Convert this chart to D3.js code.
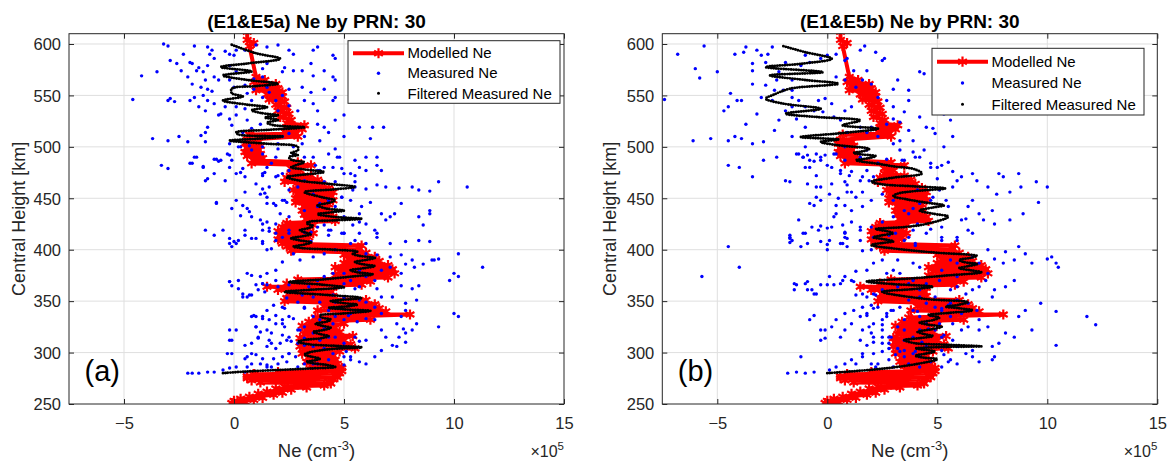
<!DOCTYPE html>
<html>
<head>
<meta charset="utf-8">
<script src="https://cdn.jsdelivr.net/npm/d3@7"></script>
<style>
  body { margin: 0; background: #fff; }
  svg { font-family: "Liberation Sans", Arial, Helvetica, sans-serif; }
</style>
</head>
<body>
<svg id="chart" width="1173" height="463"></svg>
<script>
// Ne in units of 1e5 cm^-3, height in km
var xTicks = [-5, 0, 5, 10, 15];
var yTicks = [250, 300, 350, 400, 450, 500, 550, 600];
var xDomain = [-7.5, 15];
var yDomain = [250, 610];

// modelled profile, same model in both panels: [Ne, height]
var modelled = [
  [0.1,249],[0.3,250],[-0.1,251],[0.5,252],[0.0,253],[0.9,254],[0.3,255],[1.3,256],[0.7,257],[1.8,259],
  [1.1,260],[2.2,261],[1.5,262],[2.6,264],[1.9,265],[3.3,266],[2.3,267],[4.1,268],[2.9,269],[4.4,270],
  [1.2,271],[4.3,272],[0.8,273],[4.5,274],[0.6,275],[4.7,276],[0.6,277],[4.6,278],[0.9,279],[4.8,280],
  [2.0,281],[4.9,282],[3.6,283],[4.9,285],[3.5,287],[4.7,289],[3.3,291],[4.6,293],[3.4,295],[4.5,297],
  [3.1,299],[4.8,301],[3.2,303],[5.5,304],[3.0,306],[5.3,308],[3.1,310],[5.0,312],[3.0,314],[5.4,316],
  [3.2,318],[4.8,320],[3.3,322],[4.6,324],[3.1,326],[5.0,328],[3.4,330],[6.2,332],[3.7,334],[8.0,337],
  [4.8,338],[6.9,340],[3.8,341],[6.6,343],[4.1,345],[6.4,347],[2.3,350],[6.0,351],[2.4,353],[4.5,355],
  [2.5,357],[4.4,359],[2.0,361],[4.5,363],[1.5,364],[5.8,366],[2.4,367],[6.2,369],[2.9,371],[7.0,373],
  [4.6,375],[7.3,377],[4.8,379],[7.2,381],[4.6,383],[7.0,385],[5.0,387],[6.6,389],[5.2,391],[6.4,393],
  [5.0,395],[6.0,397],[2.6,399],[5.7,401],[2.4,403],[5.8,404],[2.2,406],[3.2,408],[2.0,410],[3.4,412],
  [2.1,414],[3.6,416],[2.0,418],[3.4,420],[2.2,422],[3.6,424],[2.4,426],[4.6,428],[3.3,430],[4.5,432],
  [3.2,434],[4.3,436],[3.1,438],[4.2,440],[3.2,442],[4.3,444],[2.8,446],[4.5,448],[2.8,450],[4.4,452],
  [2.9,454],[4.5,456],[2.7,458],[4.3,460],[2.9,462],[4.0,464],[2.3,466],[3.8,468],[2.4,470],[3.5,472],
  [2.6,474],[3.0,477],[2.6,479],[3.5,482],[0.8,484],[2.9,485],[0.9,487],[1.3,489],[0.6,491],[1.2,493],
  [0.5,495],[1.1,497],[0.6,499],[1.2,501],[0.5,503],[1.1,505],[0.6,507],[2.9,510],[0.7,512],[2.8,513],
  [2.3,515],[3.1,517],[2.4,519],[3.2,521],[2.4,523],[2.6,526],[2.1,529],[2.5,532],[2.0,535],[2.4,538],
  [1.9,541],[2.3,544],[1.6,546],[2.2,549],[1.5,551],[2.2,553],[1.0,555],[2.0,557],[1.1,559],[1.9,561],
  [0.9,563],[1.4,565],[1.0,568],[0.7,598],[0.9,601],[0.6,604],[0.6,612]
];

// measured Ne, E1&E5a
var measuredA = [
  [-3.2,600],[-3.0,598],[-1.8,598],[-1.2,597],[-1.0,594],[-0.4,593],[-0.2,590],[0.0,589],[0.1,594],[0.5,594],
  [1.0,599],[1.5,597],[2.0,599],[2.5,594],[2.7,590],[3.8,597],[3.6,594],[4.5,589],[4.6,586],[-2.3,590],
  [-2.9,584],[-2.6,581],[-2.0,582],[-1.9,581],[-1.6,577],[-2.4,574],[-1.7,574],[-1.1,590],[-0.9,586],[-1.2,579],
  [-1.4,573],[-0.9,568],[-0.7,565],[-1.3,565],[-2.1,568],[-1.9,561],[-1.5,558],[-1.2,556],[-1.0,554],[-1.4,550],
  [-1.8,548],[-1.2,545],[-0.9,542],[-1.6,539],[-1.3,535],[-2.0,545],[-2.9,547],[-3.0,545],[-2.7,544],[-4.2,569],
  [-3.5,573],[-4.6,546],[-0.2,579],[0.1,573],[-0.2,565],[0.0,558],[0.5,560],[0.9,566],[1.3,568],[1.3,576],
  [1.5,581],[2.3,577],[2.2,573],[2.7,574],[3.1,574],[3.5,581],[3.6,569],[4.1,574],[4.5,568],[4.6,565],
  [4.1,556],[4.6,548],[4.5,545],[3.5,553],[3.1,558],[2.5,556],[2.2,550],[1.5,558],[1.3,548],[0.8,545],
  [0.5,537],[0.1,539],[-0.4,539],[-0.7,531],[-0.2,527],[0.1,531],[0.6,526],[1.2,522],[0.8,518],[0.4,514],
  [-0.1,521],[-0.6,532],[-1.2,519],[-1.3,514],[-1.5,511],[-2.1,505],[-2.5,510],[-3.0,506],[-3.7,508],[-1.3,505],
  [-0.2,503],[0.2,500],[0.7,501],[1.3,500],[2.0,503],[2.2,510],[2.5,513],[3.1,503],[3.9,506],[4.3,514],
  [4.1,519],[3.8,522],[4.6,526],[5.0,531],[5.7,519],[6.3,519],[6.8,519],[6.2,508],[5.0,510],[4.6,498],
  [4.3,493],[3.6,490],[3.2,490],[2.7,493],[1.9,490],[1.3,493],[0.8,497],[0.3,500],[-0.2,492],[-0.8,488],
  [-1.4,480],[-2.0,484],[-1.8,490],[-3.3,482],[-3.0,479],[-1.3,467],[-0.9,474],[-0.2,480],[0.1,474],[0.5,471],
  [1.3,474],[1.5,480],[2.2,474],[2.5,477],[3.2,467],[3.9,477],[4.5,480],[4.8,490],[5.5,487],[6.0,490],
  [6.5,490],[6.5,482],[6.7,477],[6.0,477],[5.5,472],[5.0,474],[4.6,466],[4.1,466],[5.5,461],[6.0,459],
  [6.5,463],[6.9,461],[7.5,460],[8.1,461],[8.4,458],[8.9,457],[9.3,466],[10.6,461],[7.6,445],[7.3,435],
  [7.1,432],[6.7,435],[6.2,446],[5.8,442],[5.7,435],[5.3,448],[4.9,451],[4.3,448],[3.6,454],[2.9,461],
  [2.5,458],[2.2,448],[1.5,451],[1.2,454],[0.5,456],[0.1,448],[-0.1,440],[0.3,433],[0.8,432],[1.2,429],
  [1.5,445],[1.9,443],[2.1,435],[2.5,432],[3.2,438],[3.9,445],[4.6,442],[5.0,432],[6.0,425],[6.4,419],
  [6.9,429],[8.4,432],[8.9,438],[8.9,435],[8.6,424],[-0.8,445],[-0.5,419],[0.5,419],[1.3,419],[1.9,416],
  [2.5,419],[3.8,422],[4.3,419],[5.0,416],[5.7,416],[6.5,416],[-0.6,487],[-0.1,487],[1.7,484],[2.0,498],
  [2.7,500],[3.2,510],[3.8,535],[2.9,535],[3.2,545],[3.6,542],[2.5,540],[2.0,535],[1.9,545],[1.6,553],
  [0.9,556],[0.6,552],
  [-1.9,484],[-1.7,490],[-1.4,481],[-0.9,488],[-0.7,486],[-0.3,493],[-1.2,469],[-0.4,467],[0.3,475],[0.4,479],
  [-0.8,446],[1.3,472],[1.4,475],[1.0,464],[1.3,459],[1.4,455],[1.6,461],[1.9,471],[2.0,472],[2.3,448],
  [2.4,446],[1.8,445],[0.4,443],[0.6,440],[0.7,437],[1.3,425],[1.5,427],[1.9,425],[1.6,421],[1.6,418],
  [1.0,411],[-0.2,411],[-0.1,403],[0.1,406],[1.3,408],[1.5,400],[1.7,401],[-1.3,419],[-0.9,414],[3.7,482],
  [3.8,477],[4.1,480],[4.7,490],[4.9,479],[5.3,474],[5.7,480],[5.5,466],[5.4,458],[4.9,451],[4.3,446],
  [3.8,442],[4.1,424],[4.4,419],[4.9,416],[5.4,424],[5.7,427],[5.3,406],[3.5,417],[3.5,408],
  [-0.2,369],[0.2,370],[1.0,366],[1.3,367],[0.7,356],[0.4,354],[1.4,359],[2.3,343],[0.9,336],[1.0,335],
  [1.0,325],[1.3,333],[1.6,332],[1.9,336],[2.2,328],[2.3,325],[2.7,333],[3.2,343],[1.1,315],[1.6,312],
  [1.7,309],[2.2,317],[2.6,311],[3.0,322],[3.2,314],[0.6,296],[0.5,294],[1.0,298],[1.5,288],[1.7,286],
  [2.0,289],[2.4,291],[2.5,299],[2.8,296],[-0.3,299],[-0.2,312],[5.1,301],[5.3,296],[5.7,311],[5.6,330],
  [5.2,336],[4.5,356],[5.5,362],
  [-0.2,406],[0.0,408],[0.2,409],[0.5,414],[0.8,411],[1.3,406],[1.9,409],[2.2,412],[2.5,416],[3.2,417],
  [4.3,414],[5.0,416],[5.5,409],[6.0,406],[6.5,412],[7.1,406],[7.8,408],[8.4,409],[8.9,408],[10.2,396],
  [9.1,390],[9.3,391],[8.1,390],[7.6,395],[7.1,393],[6.5,395],[6.0,396],[4.6,400],[4.1,396],[3.6,393],
  [3.0,390],[2.7,396],[2.2,388],[1.9,380],[1.5,377],[1.2,374],[0.8,375],[0.6,377],[-0.2,369],[-0.1,365],
  [0.2,362],[0.4,357],[0.6,354],[0.8,356],[1.1,361],[1.3,367],[1.5,366],[1.9,370],[2.0,364],[2.5,366],
  [2.5,359],[3.1,356],[3.4,364],[3.8,370],[4.1,374],[4.5,377],[5.0,377],[5.3,370],[5.7,380],[6.0,374],
  [6.4,370],[6.7,380],[7.1,383],[7.6,377],[7.8,386],[8.2,383],[8.6,386],[9.0,390],[10.0,377],[11.3,383],
  [10.2,374],[9.8,370],[8.4,365],[8.1,362],[7.6,365],[7.2,354],[7.8,348],[8.3,351],[7.8,341],[7.6,335],
  [7.4,328],[7.7,323],[7.5,315],[7.8,310],[7.4,306],[7.2,307],[6.7,302],[6.4,296],[6.0,289],[5.7,291],
  [5.3,293],[5.0,296],[4.5,299],[4.1,304],[3.6,306],[3.2,307],[2.9,309],[2.5,299],[2.2,296],[1.8,294],
  [1.3,294],[1.2,289],[0.8,289],[0.6,286],[0.1,286],[-0.2,322],[-0.1,312],[0.5,307],[0.8,309],[1.1,314],
  [1.2,320],[1.0,325],[1.5,322],[1.7,319],[1.9,328],[2.2,332],[2.5,335],[2.9,322],[2.5,315],[2.4,312],
  [2.1,309],[1.9,304],[1.5,306],[1.3,335],[0.8,335],[1.5,341],[1.8,346],[2.2,344],[2.4,353],[2.9,349],
  [3.2,344],[3.6,335],[3.9,332],[4.1,323],[4.5,328],[4.6,335],[5.0,332],[5.3,338],[5.7,340],[6.0,333],
  [6.4,332],[6.7,322],[6.9,315],[6.7,338],[6.4,344],[6.0,349],[5.7,351],[5.3,346],[5.0,353],[4.6,349],
  [4.3,341],[3.9,349],[3.6,354],[5.0,367],[5.7,364],[6.5,362],[6.7,354],[10.0,338],[10.2,335],[9.3,325],
  [8.3,328],[8.1,322],[7.8,319],[6.0,312],[5.5,315],[5.0,309],[4.6,315],[4.3,315],[3.9,312],[3.6,319],
  [3.2,325],[4.3,293],[5.0,288],[3.8,289],[3.2,289],[-0.9,281],[-1.2,281],[-1.6,280],[-1.9,280],[-2.1,280],
  [-0.5,283],[-0.2,285],[0.5,281],[-0.1,299],[0.1,322],[0.8,299],[1.5,286],[2.9,286],[3.6,289]
];

// measured Ne, E1&E5b
var measuredB = [
  [-7.4,546],[-6.8,590],[-6.0,576],[-5.8,567],[-5.6,598],[-5.0,573],[-4.7,535],[-4.5,539],[-4.2,590],[-4.1,545],
  [-3.8,592],[-3.7,597],[-3.4,581],[-3.4,574],[-3.2,594],[-3.0,589],[-2.8,582],[-2.7,590],[-2.5,597],[-2.3,565],
  [-2.2,573],[-1.9,582],[-1.6,565],[-1.6,555],[-1.2,579],[-1.0,589],[-0.8,582],[-0.5,573],[-0.3,586],[0.0,589],
  [0.4,590],[0.8,584],[0.9,586],[1.5,594],[1.7,598],[1.8,574],[2.2,592],[2.5,584],[2.6,586],[3.0,556],
  [3.2,565],[3.7,555],[4.2,573],[4.4,571],[-6.1,506],[-5.3,508],[-4.5,506],[-4.2,510],[-3.9,508],[-3.4,503],
  [-2.9,505],[-2.4,516],[-2.2,526],[-1.9,535],[-1.6,539],[-1.4,527],[-1.0,519],[-0.4,545],[-0.1,547],[0.2,542],
  [0.3,529],[0.6,526],[0.8,535],[0.9,514],[1.5,519],[1.8,514],[2.0,519],[2.3,510],[2.7,522],[3.0,527],
  [3.3,524],[3.7,516],[3.9,506],[4.4,497],[4.9,513],[4.8,518],[5.3,500],[5.7,510],[-4.5,482],[-4.0,480],
  [-3.4,471],[-2.9,487],[-2.3,490],[-1.9,467],[-1.7,466],[-1.4,493],[-1.1,490],[-1.0,480],[-0.8,487],[-0.5,493],
  [-0.3,487],[-0.1,492],[0.2,480],[0.6,474],[0.8,466],[1.1,456],[1.5,467],[1.8,477],[2.1,471],[2.3,484],
  [2.7,488],[3.0,503],[3.3,497],[3.5,487],[3.9,495],[4.2,490],[4.7,484],[5.0,480],[5.5,485],[5.7,476],
  [5.9,467],[5.7,461],[5.1,458],[4.8,451],[4.2,445],[3.9,440],[3.5,438],[3.0,448],[2.5,454],[2.0,448],
  [1.6,442],[1.1,438],[0.8,443],[0.4,435],[0.1,454],[-0.3,461],[-0.5,451],[-0.8,445],[-1.3,429],[-1.7,414],
  [-1.0,416],[-0.4,419],[0.2,422],[0.8,416],[1.5,419],[2.0,422],[2.5,427],[3.0,432],[3.9,419],[4.5,416],
  [5.2,409],[5.9,412],[6.4,419],[6.6,448],[6.4,442],[6.3,430],[6.1,429],[6.9,435],[7.5,438],[7.8,474],
  [8.0,471],[8.3,456],[8.7,474],[8.8,461],[9.5,466],[9.6,446],[10.0,461],[7.7,454],[7.3,461],[6.8,467],
  [6.6,474],[6.1,471],[7.1,429],[7.6,425],[8.3,429],[8.9,435],[5.3,532],[5.6,526],[3.3,506],[-1.0,500],
  [-1.6,510],[-2.5,545],[-3.0,548],[-3.2,532],[-3.7,522],[-3.9,545],[-4.4,552],[-3.4,561],[-2.8,560],[-2.4,555],
  [-2.0,555],[-1.6,548],[-1.3,545],[-1.0,539],[-0.6,535],[-0.2,534],[1.1,539],[1.3,558],[0.8,565],[0.4,568],
  [1.2,574],[1.6,565],[2.0,561],[2.3,548],[2.7,545],[3.0,539],[3.5,534],[3.7,545],[4.2,529],[4.5,519],
  [1.8,497],[1.5,490],[0.8,487],[0.4,493],[0.8,500],
  [-1.3,493],[-1.1,490],[-0.9,492],[-0.8,480],[-0.6,486],[-0.3,490],[0.0,482],[0.3,493],[0.6,477],[1.0,472],
  [-0.5,472],[-0.9,464],[-0.5,461],[0.2,464],[1.1,476],[1.6,471],[1.9,467],[0.9,463],[0.9,456],[1.3,451],
  [1.6,456],[0.5,450],[0.4,443],[-0.3,448],[-0.6,443],[0.3,432],[0.7,424],[1.1,427],[1.5,422],[0.8,417],
  [0.0,421],[-0.3,423],[-0.7,422],[-1.2,403],[-1.7,411],[-1.7,407],[0.0,405],[0.7,406],[0.9,411],[1.6,399],
  [3.4,487],[4.0,490],[4.7,480],[5.2,482],[5.0,469],[4.1,458],[4.7,448],[5.4,448],[5.5,442],[3.7,435],
  [4.1,425],[4.7,420],[5.2,422],[3.1,416],[3.7,412],[4.0,406],
  [-1.5,367],[-0.9,369],[-0.9,361],[-0.6,357],[0.0,366],[0.3,366],[0.7,370],[1.2,369],[1.3,356],[1.6,357],
  [2.2,356],[-0.6,336],[-0.1,322],[-0.3,312],[1.8,336],[1.9,325],[2.1,343],[2.5,332],[2.5,327],[2.7,335],
  [2.9,341],[2.9,315],[2.1,315],[2.5,309],[2.8,304],[1.6,299],[1.3,289],[2.0,289],[2.2,286],[-1.2,296],
  [3.1,298],[3.3,301],[4.0,301],[4.3,310],[4.6,323],[4.7,336],[4.1,340],[5.2,343],[5.5,346],[5.3,317],
  [5.3,298],[5.5,291],
  [-5.7,374],[-4.5,403],[-4.0,383],[-1.7,412],[-1.6,409],[-1.1,416],[-0.9,406],[-0.3,408],[0.1,409],[0.0,400],
  [0.6,406],[0.8,412],[0.9,403],[1.5,409],[2.0,400],[2.1,412],[2.8,414],[3.5,409],[4.0,404],[5.2,412],
  [5.9,409],[6.6,416],[7.3,400],[7.6,391],[8.1,398],[8.7,403],[9.0,396],[9.3,387],[10.0,391],[10.2,393],
  [10.5,383],[10.4,387],[8.5,390],[8.0,387],[7.3,377],[6.9,387],[6.6,393],[5.9,387],[5.6,390],[5.2,380],
  [4.2,383],[3.9,387],[3.2,390],[2.5,390],[2.1,387],[1.8,380],[1.3,379],[1.1,370],[0.8,374],[0.6,367],
  [0.1,374],[-0.3,366],[-1.0,367],[-0.7,361],[-0.5,357],[-1.4,366],[-1.5,361],[-0.8,332],[-0.3,322],[-0.1,314],
  [0.6,315],[0.8,322],[1.1,328],[1.5,335],[1.8,338],[2.1,328],[2.5,322],[2.8,315],[3.2,325],[3.5,332],
  [3.9,341],[4.2,335],[4.5,328],[4.9,322],[5.2,315],[5.9,306],[6.3,299],[6.6,302],[6.9,322],[7.3,325],
  [7.5,306],[7.8,309],[8.1,319],[8.5,315],[8.7,335],[9.0,341],[9.7,348],[10.4,340],[11.8,335],[12.2,327],
  [10.4,307],[9.3,322],[7.6,296],[7.5,293],[6.9,291],[6.6,296],[5.9,289],[5.6,293],[5.2,286],[4.7,291],
  [4.2,296],[3.9,299],[3.5,302],[3.2,304],[2.5,301],[2.1,299],[1.6,296],[1.1,293],[0.8,289],[0.4,286],
  [0.1,283],[-0.6,281],[-1.0,280],[-1.4,281],[-1.8,280],[1.8,354],[2.1,357],[2.5,361],[3.2,364],[3.7,367],
  [4.2,361],[4.9,354],[5.6,361],[5.9,364],[6.3,357],[6.4,348],[6.8,341],[6.9,332],[7.5,354],[7.6,361],
  [8.1,364],[8.5,370],[1.5,312],[1.8,307],[2.1,310],[2.5,315],[2.8,309],[3.5,312],[3.9,315],[4.5,306],
  [3.5,296],[2.8,293],[2.3,289],[3.0,286],[3.7,289],[4.2,286],[4.9,293],[5.2,302],[5.7,312],[6.1,322],
  [6.4,325],[5.6,335],[5.2,341],[4.9,344],[4.5,348],[4.2,354],[3.7,351],[3.3,344],[3.0,341],[2.7,338],
  [2.3,344],[2.0,346],[1.6,344],[1.2,341],[0.8,338],[0.4,332],[0.2,325],[1.6,322],[2.0,319],[3.5,322],
  [4.2,322],[5.1,328],[5.7,328],[6.1,338],[5.6,348],[5.9,351],[6.6,361],[6.9,364],[7.2,370],[5.9,374],
  [5.1,370],[4.5,367],[3.9,370],[3.3,377],[3.0,380],[2.7,377]
];

// filtered measured Ne, traced along the curve from 280 km upwards
var filteredA = [
  [-0.5,280],[0.5,281.5],[2.0,283],[3.5,284.5],[4.6,286],[4.2,288],[3.6,289.5],[3.3,291],[3.7,292.5],[3.9,294],
  [3.5,296],[3.2,298],[3.4,300],[3.9,302],[4.5,303.5],[5.8,305],[4.6,306.5],[3.4,308],[2.9,310.5],[3.3,312.5],
  [4.0,314],[4.3,316],[3.9,318],[3.6,320],[4.1,322],[4.4,324],[4.0,326],[3.7,328],[4.2,330],[4.4,332],
  [4.0,334],[3.9,336],[5.0,338],[6.2,340.5],[5.0,342],[4.3,343.5],[5.2,345],[5.6,346.5],[5.0,348],[4.4,350],
  [5.8,353],[4.2,356],[2.3,359],[3.5,361],[5.0,363.5],[4.0,366],[2.5,368.5],[4.0,371],[5.4,374],[6.3,376],
  [5.6,378],[5.3,380],[5.9,382],[6.4,384],[5.8,386],[5.5,388],[6.0,390],[6.4,392],[5.7,394],[5.4,396],
  [5.6,398],[4.5,400],[3.1,401.5],[2.7,403],[3.2,405],[3.5,407],[3.0,409],[2.6,411],[3.1,413],[3.5,415],
  [3.2,417],[3.0,419],[3.4,421],[3.6,423],[3.3,425.5],[3.4,427],[4.6,428.5],[5.8,430],[4.5,432],[3.8,434.5],
  [4.5,436.5],[5.0,438],[4.2,440],[3.8,443],[4.3,445.5],[4.6,448],[4.0,451],[3.2,456],[4.5,458.5],[5.5,461],
  [4.3,464],[3.0,467],[2.4,470.5],[3.2,473],[4.1,475.5],[3.2,478],[2.6,480],[2.8,482],[3.2,485],[2.6,487.5],
  [2.5,490],[2.9,492],[2.6,494],[2.9,496.5],[2.9,500],[1.5,503],[-0.2,506],[1.2,508],[2.2,510],[0.2,512],
  [0.1,514],[1.6,516.5],[3.2,519],[1.8,521],[1.5,523.5],[2.0,526],[1.4,528.5],[2.0,530.5],[1.2,533],[0.8,535.5],
  [1.5,538.5],[0.6,541],[-0.5,545],[0.4,549],[-0.1,552],[-0.1,556.5],[1.0,559],[2.0,561.3],[0.6,565],[-0.5,569.4],
  [0.8,573.3],[-0.6,577.5],[0.6,581],[2.1,585.6],[1.0,591],[-0.2,600]
];

var filteredB = [
  [0.0,280],[1.0,281.5],[2.6,284.5],[4.1,289],[5.0,293.5],[4.4,295],[4.0,297],[4.5,299],[4.9,301],[4.3,303],
  [4.0,304],[5.5,305.5],[7.0,306],[5.5,307.5],[4.0,309],[3.5,312],[4.2,314],[4.8,316],[4.4,318],[4.1,320],
  [4.7,322.5],[5.2,325],[4.6,327],[4.2,329],[4.8,331.5],[5.1,334],[4.6,336.5],[5.5,338.5],[6.6,341],[6.0,343],
  [5.4,344.5],[6.0,346.5],[6.4,349],[4.5,352],[2.5,359],[3.8,361.5],[4.8,364],[3.0,366.5],[1.8,369],[3.8,372],
  [5.5,375],[7.0,378],[6.5,380],[6.0,382],[6.4,384],[6.8,386],[6.2,388],[6.0,390],[6.5,392],[6.8,394],
  [5.0,397],[3.5,400],[2.0,404.5],[2.5,406.5],[3.0,408],[2.6,410],[2.1,412],[2.5,414],[3.0,416],[2.7,418],
  [2.2,420],[3.5,422],[4.5,425],[5.5,432],[4.8,435],[4.2,438],[4.8,441],[5.3,443],[4.4,446],[3.6,449],
  [3.0,452],[3.2,454.5],[4.0,457],[5.35,459.5],[4.0,461.5],[2.5,463.5],[2.0,466],[3.0,470],[4.3,474],[4.0,478],
  [3.0,481],[2.3,483.5],[1.6,485.5],[1.3,487],[1.9,489],[2.2,491],[1.6,492.5],[1.2,494],[1.7,496],[1.9,498],
  [0.5,501.5],[-0.3,504.7],[0.5,507],[-1.2,509.5],[0.5,513],[2.3,517.6],[0.7,520.9],[1.5,525.7],[-0.5,529],[-1.9,532.2],
  [-0.3,537],[-2.0,542],[-2.8,546.8],[-2.4,551],[-1.7,556.5],[0.5,561.3],[-1.0,565],[-2.6,569.4],[-0.2,572.6],[-2.8,577.5],
  [-1.2,580.7],[0.2,585.6],[-1.0,592],[-2.1,598.5]
];

var legendLabels = ['Modelled Ne', 'Measured Ne', 'Filtered Measured Ne'];

var panels = [
  { id: 'a', title: '(E1&E5a) Ne by PRN: 30', tag: '(a)', measured: measuredA, filtered: filteredA,
    x0: 69, x1: 564, yLabelX: 24.6, legend: { x: 348, y: 40.7, w: 212, h: 62.6 } },
  { id: 'b', title: '(E1&E5b) Ne by PRN: 30', tag: '(b)', measured: measuredB, filtered: filteredB,
    x0: 662.3, x1: 1157.3, yLabelX: 615.7, legend: { x: 932, y: 48.3, w: 212, h: 66.7 } }
];

var Y0 = 404, Y1 = 33.7;
var axisColor = '#262626';
var svg = d3.select('#chart');
var star = d3.symbol().type(d3.symbolAsterisk).size(72);

panels.forEach(function (p) {
  var x = d3.scaleLinear().domain(xDomain).range([p.x0, p.x1]);
  var y = d3.scaleLinear().domain(yDomain).range([Y0, Y1]);
  var g = svg.append('g').attr('class', 'panel-' + p.id);

  g.append('clipPath').attr('id', 'clip-' + p.id)
    .append('rect').attr('x', p.x0).attr('y', Y1).attr('width', p.x1 - p.x0).attr('height', Y0 - Y1);

  // grid
  var grid = g.append('g').attr('stroke', '#dfdfdf').attr('stroke-width', 1);
  grid.selectAll('.gx').data(xTicks.filter(function (t) { return t > xDomain[0] && t < xDomain[1]; }))
    .join('line').attr('x1', x).attr('x2', x).attr('y1', Y0).attr('y2', Y1);
  grid.selectAll('.gy').data(yTicks.filter(function (t) { return t > yDomain[0]; }))
    .join('line').attr('y1', y).attr('y2', y).attr('x1', p.x0).attr('x2', p.x1);

  var plot = g.append('g').attr('clip-path', 'url(#clip-' + p.id + ')');

  // modelled
  var line = d3.line().x(function (d) { return x(d[0]); }).y(function (d) { return y(d[1]); });
  plot.append('path').datum(modelled).attr('d', line)
    .attr('fill', 'none').attr('stroke', '#ff0000').attr('stroke-width', 4).attr('stroke-linejoin', 'round');
  plot.append('g').selectAll('path').data(modelled).join('path')
    .attr('d', star).attr('transform', function (d) { return 'translate(' + x(d[0]) + ',' + y(d[1]) + ')'; })
    .attr('fill', 'none').attr('stroke', '#ff0000').attr('stroke-width', 2.2);

  // measured
  plot.append('g').selectAll('circle').data(p.measured).join('circle')
    .attr('cx', function (d) { return x(d[0]); }).attr('cy', function (d) { return y(d[1]); })
    .attr('r', 1.7).attr('fill', '#0000ff');

  // filtered, drawn as dots along the curve
  var smooth = d3.line().curve(d3.curveCatmullRom.alpha(0.5))
    .x(function (d) { return x(d[0]); }).y(function (d) { return y(d[1]); });
  plot.append('path').datum(p.filtered).attr('d', smooth)
    .attr('fill', 'none').attr('stroke', '#000').attr('stroke-width', 2.9)
    .attr('stroke-linecap', 'round').attr('stroke-dasharray', '0 2.5');

  // axes
  var ax = g.append('g');
  var bottom = ax.append('g').attr('transform', 'translate(0,' + Y0 + ')')
    .call(d3.axisBottom(x).tickValues(xTicks).tickSizeInner(-5).tickSizeOuter(0).tickPadding(13.6));
  var top = ax.append('g').attr('transform', 'translate(0,' + Y1 + ')')
    .call(d3.axisTop(x).tickValues(xTicks).tickSizeInner(-5).tickSizeOuter(0).tickFormat(''));
  var left = ax.append('g').attr('transform', 'translate(' + p.x0 + ',0)')
    .call(d3.axisLeft(y).tickValues(yTicks).tickSizeInner(-5).tickSizeOuter(0).tickPadding(8));
  var right = ax.append('g').attr('transform', 'translate(' + p.x1 + ',0)')
    .call(d3.axisRight(y).tickValues(yTicks).tickSizeInner(-5).tickSizeOuter(0).tickFormat(''));
  [bottom, top, left, right].forEach(function (a) {
    a.select('.domain').remove();
    a.selectAll('line').attr('stroke', axisColor);
    a.selectAll('text').attr('fill', axisColor).attr('font-size', 16.5)
      .attr('font-family', '"Liberation Sans", Arial, sans-serif');
  });
  left.selectAll('text').attr('dy', '0.35em');
  g.append('rect').attr('x', p.x0).attr('y', Y1).attr('width', p.x1 - p.x0).attr('height', Y0 - Y1)
    .attr('fill', 'none').attr('stroke', axisColor).attr('stroke-width', 1);

  // texts
  g.append('text').attr('x', (p.x0 + p.x1) / 2).attr('y', 28).attr('text-anchor', 'middle')
    .attr('font-size', 19).attr('font-weight', 'bold').attr('fill', '#000').text(p.title);

  g.append('text').attr('transform', 'translate(' + p.yLabelX + ',' + ((Y0 + Y1) / 2) + ') rotate(-90)')
    .attr('text-anchor', 'middle').attr('font-size', 18).attr('fill', axisColor).text('Central Height [km]');

  var xl = g.append('text').attr('x', (p.x0 + p.x1) / 2).attr('y', 456.5).attr('text-anchor', 'middle')
    .attr('font-size', 18.5).attr('fill', axisColor);
  xl.append('tspan').text('Ne (cm');
  xl.append('tspan').attr('font-size', 13).attr('dy', -7).text('-3');
  xl.append('tspan').attr('dy', 7).text(')');

  var ex = g.append('text').attr('x', p.x1).attr('y', 456.5).attr('text-anchor', 'end')
    .attr('font-size', 16).attr('fill', axisColor);
  ex.append('tspan').text('\u00d710');
  ex.append('tspan').attr('font-size', 11.5).attr('dy', -7).text('5');

  g.append('text').attr('x', p.x0 + 15.5).attr('y', 381).attr('font-size', 29).attr('fill', '#000').text(p.tag);

  // legend
  var L = p.legend;
  var lg = g.append('g').attr('transform', 'translate(' + L.x + ',' + L.y + ')');
  lg.append('rect').attr('width', L.w).attr('height', L.h).attr('fill', '#fff')
    .attr('stroke', axisColor).attr('stroke-width', 1);
  var rows = [0.2, 0.52, 0.84].map(function (f) { return L.h * f; });
  lg.append('line').attr('x1', 5).attr('x2', 56).attr('y1', rows[0]).attr('y2', rows[0])
    .attr('stroke', '#ff0000').attr('stroke-width', 4);
  lg.append('path').attr('d', star).attr('transform', 'translate(30.5,' + rows[0] + ')')
    .attr('fill', 'none').attr('stroke', '#ff0000').attr('stroke-width', 2.2);
  lg.append('circle').attr('cx', 30.5).attr('cy', rows[1]).attr('r', 1.7).attr('fill', '#0000ff');
  lg.append('circle').attr('cx', 30.5).attr('cy', rows[2]).attr('r', 1.5).attr('fill', '#000');
  lg.selectAll('.lt').data(legendLabels).join('text')
    .attr('x', 59.5).attr('y', function (d, i) { return rows[i]; }).attr('dy', '0.35em')
    .attr('font-size', 15).attr('fill', '#000').text(function (d) { return d; });
});
</script>
</body>
</html>
